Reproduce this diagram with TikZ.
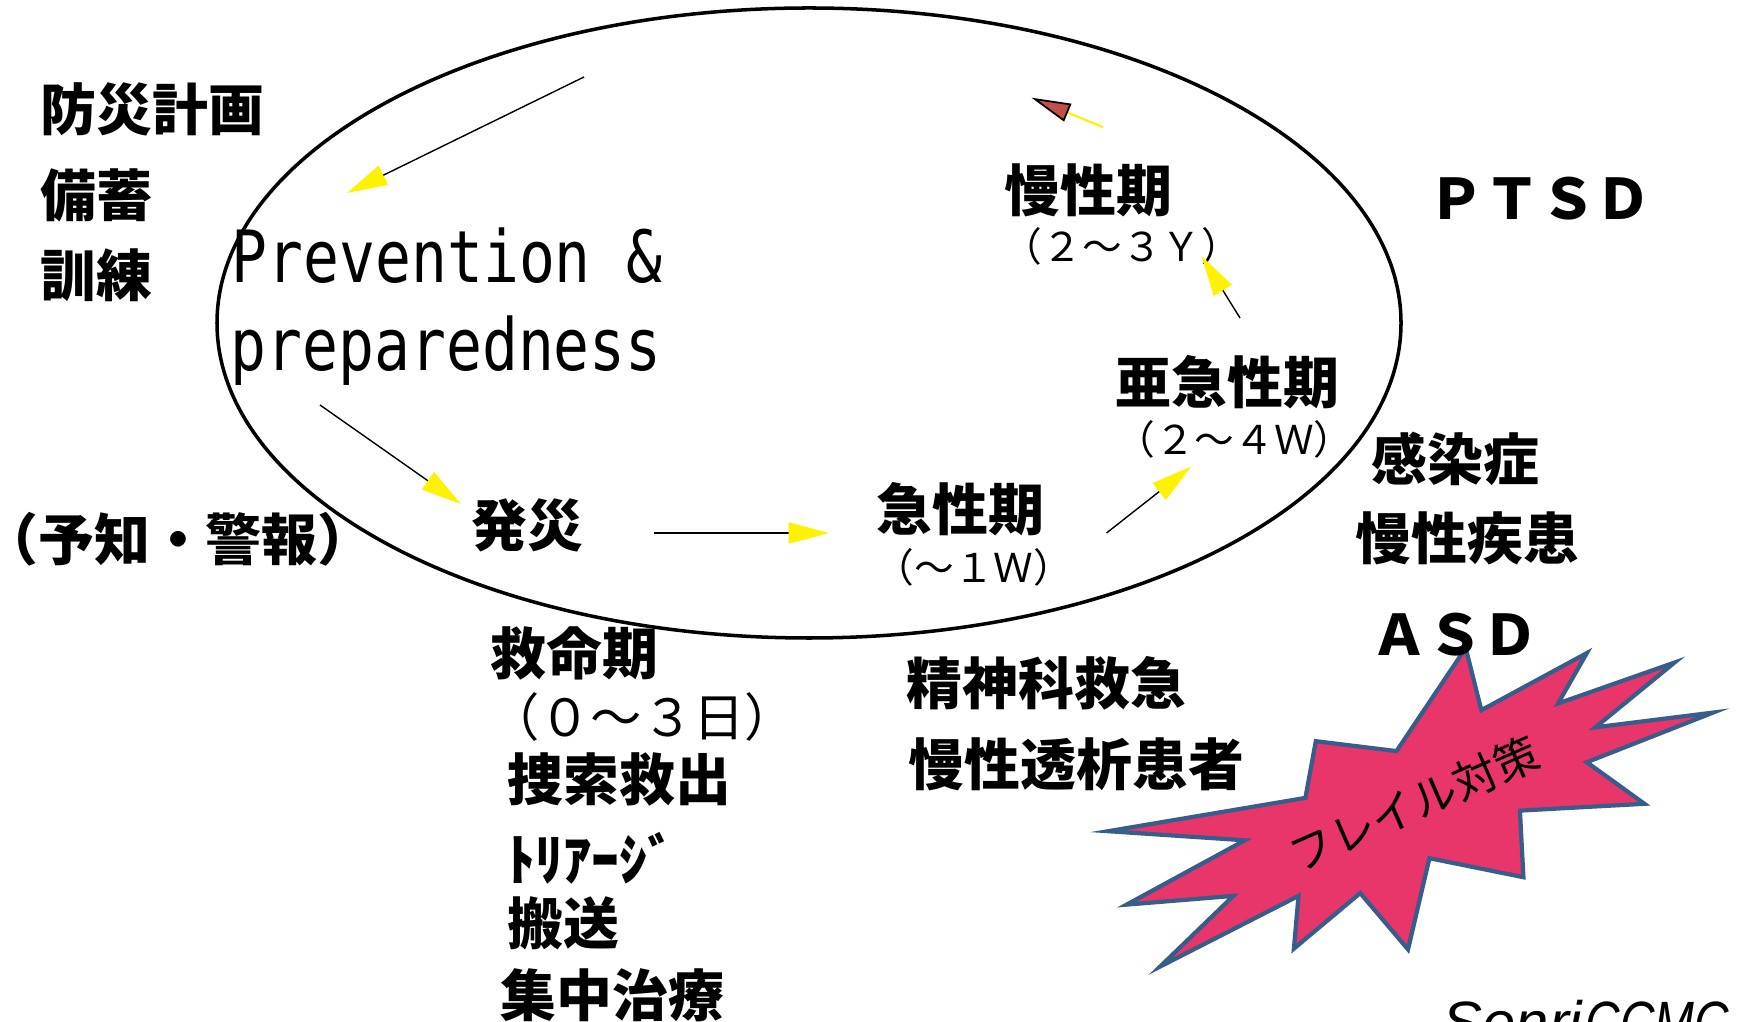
\documentclass[tikz,border=0pt]{standalone}
\usepackage{fontspec}
\usetikzlibrary{arrows.meta}
\setmainfont{Liberation Sans}
\newfontfamily\jp{Noto Sans CJK JP}
\newfontfamily\monof[FakeStretch=0.828]{DejaVu Sans Mono}
\definecolor{burst}{RGB}{232,54,106}
\definecolor{burstline}{RGB}{56,93,138}
\definecolor{redtip}{RGB}{192,80,77}
\newcommand{\jpbig}{\jp\bfseries\fontsize{15.9pt}{18pt}\selectfont}
\newcommand{\jpmid}{\jp\fontsize{14.6pt}{17pt}\selectfont}
\newcommand{\jpsmall}{\jp\fontsize{11.3pt}{13pt}\selectfont}
\tikzset{
  lbl/.style={inner sep=0pt, font=\jpbig},
  paren/.style={inner sep=0pt, font=\jpsmall},
  arr/.style={line width=0.4pt, -{Triangle[length=11.5pt,width=6pt,color=yellow]}},
}
\begin{document}
\begin{tikzpicture}[x=0.1mm, y=-0.1mm]
\useasboundingbox (0,0) rectangle (1754,1022);
\clip (0,0) rectangle (1754,1022);
\fill[white] (0,0) rectangle (1754,1022);

% cycle ellipse
\draw[line width=1pt] (809,323) ellipse [x radius=592, y radius=315];

% starburst
\draw[line width=1.2pt, draw=burstline, fill=burst, line join=miter]
 (1465.7,648) -- (1481.3,710.2) -- (1586.8,653.1) -- (1558,703.5) -- (1674.4,662.6)
 -- (1595.4,727.3) -- (1713,712.6) -- (1586.8,762.2) -- (1644.4,803.8) -- (1519.9,810.6)
 -- (1523.4,877.2) -- (1429.4,858.2) -- (1408,949.4) -- (1360.2,893.1) -- (1293.9,948.6)
 -- (1298.5,895.9) -- (1160.2,966.5) -- (1233.4,895.9) -- (1126.7,904.6) -- (1244.9,840.3)
 -- (1108.3,831.2) -- (1305.4,797.9) -- (1315.8,741.2) -- (1396.5,751.1) -- cycle;
\node[inner sep=0pt, rotate=23.6, font=\jp\fontsize{12.7pt}{14pt}\selectfont] (frail) at (1414,804) {フレイル対策};

% left column
\node[lbl, anchor=west] (bousai) at (40,109) {防災計画};
\node[lbl, anchor=west] (bichiku) at (40,195) {備蓄};
\node[lbl, anchor=west] (kunren) at (40,275) {訓練};
\node[lbl] (yochi) at (178,539) {\hspace*{-0.45em}（予知・警報）\hspace*{-0.45em}};

% prevention text
\node[inner sep=0pt, anchor=base west, font=\monof\fontsize{20.5pt}{24pt}\selectfont] (prev1) at (231,283) {Prevention \&};
\node[inner sep=0pt, anchor=base west, font=\monof\fontsize{20.5pt}{24pt}\selectfont] (prev2) at (230,371) {preparedness};

% phases
\node[lbl, anchor=west] (hassai) at (471,525) {発災};
\node[lbl, anchor=west] (kyusei) at (876,509) {急性期};
\node[paren] (kyuseip) at (974,567) {（～１Ｗ）};
\node[lbl, anchor=west] (akyusei) at (1115,382) {亜急性期};
\node[paren] (akyuseip) at (1234.5,439) {（２～４Ｗ）};
\node[lbl, anchor=west] (mansei) at (1004,190) {慢性期};
\node[paren] (manseip) at (1122,246) {（２～３Ｙ）};

% right column
\node[lbl] (ptsd) at (1540,199) {ＰＴＳＤ};
\node[lbl, anchor=west] (kansen) at (1371,459) {感染症};
\node[lbl, anchor=west] (shikkan) at (1355,538) {慢性疾患};
\node[lbl] (asd) at (1455,635) {ＡＳＤ};

% lower texts
\node[lbl, anchor=west] (kyumei) at (490,653) {救命期};
\node[inner sep=0pt, font=\jpmid] (kyumeip) at (642,717) {（０～３日）};
\node[lbl, anchor=west] (sousaku) at (507,779) {捜索救出};
\node[lbl, anchor=west] (triage) at (507,858) {ﾄﾘｱｰｼﾞ};
\node[lbl, anchor=west] (hansou) at (507,923) {搬送};
\node[lbl, anchor=west] (shuchu) at (500,995) {集中治療};
\node[lbl, anchor=west] (seishin) at (906,683) {精神科救急};
\node[lbl, anchor=west] (touseki) at (908,764) {慢性透析患者};

% credit
\node[inner sep=0pt, anchor=base west, font=\itshape\fontsize{17pt}{20pt}\selectfont] (credit) at (1442,1043) {Senri\hspace{1pt}\scalebox{0.8}[1]{CCMC}};

% arrows
\coordinate (a1s) at (584,77);   \coordinate (a1e) at (347,193);
\coordinate (a2s) at (320,405);  \coordinate (a2e) at (461,504);
\coordinate (a3s) at (654,533);  \coordinate (a3e) at (829,533);
\coordinate (a4s) at (1106.5,533); \coordinate (a4e) at (1191,466.6);
\coordinate (a5s) at (1240,318); \coordinate (a5e) at (1201.5,256);
\coordinate (a6s) at (1103.3,127.3); \coordinate (a6e) at (1031.4,97.7);
\draw[arr] (a1s) -- (a1e);
\draw[arr] (a2s) -- (a2e);
\draw[arr] (a3s) -- (a3e);
\draw[arr] (a4s) -- (a4e);
\draw[arr] (a5s) -- (a5e);
\draw[yellow, line width=0.6pt, -{Triangle[length=11.2pt,width=5.4pt,color=black,fill=redtip,line width=0.5pt]}] (a6s) -- (a6e);
\end{tikzpicture}
\end{document}
